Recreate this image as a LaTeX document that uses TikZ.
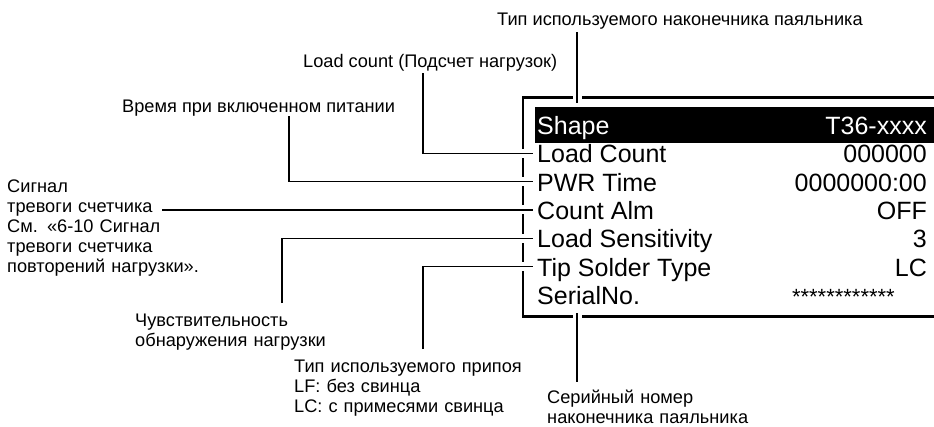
\documentclass[tikz,border=0pt]{standalone}
\usepackage{fontspec}
\setmainfont{Liberation Sans}
\begin{document}
\begin{tikzpicture}[x=1pt,y=-1pt,
  lbl/.style={inner sep=0pt, anchor=base west, font=\fontsize{18.2}{20}\selectfont},
  mlbl/.style={lbl, align=left, text width=240pt},
  rowtxt/.style={inner sep=0pt, anchor=base west, font=\fontsize{25}{28}\selectfont, text height=19pt, text depth=0pt},
  valtxt/.style={inner sep=0pt, anchor=base east, font=\fontsize{25}{28}\selectfont},
  conn/.style={line width=1.2pt, preaction={draw=white, line width=9pt}},
  frame/.style={line width=2.3pt}
]
\clip (0,0) rectangle (934,426);

% frame of the display
\draw[frame] (938,97.5) -- (523,97.5) -- (523,316.5) -- (938,316.5);

% rows (placed first so connectors can refer to them)
\path
  node[rowtxt, text=white] (rShape) at (537,134.5) {Shape}
  node[rowtxt] (rLoad) at (537,162.8) {Load Count}
  node[rowtxt] (rPwr)  at (537,191.1) {PWR Time}
  node[rowtxt] (rCnt)  at (537,219.4) {Count Alm}
  node[rowtxt] (rSens) at (537,247.7) {Load Sensitivity}
  node[rowtxt] (rTip)  at (537,276.0) {Tip Solder Type}
  node[rowtxt] (rSer)  at (537,304.3) {SerialNo.};

% connectors
\coordinate (aShape) at (577,32);
\coordinate (eShape) at (577,103);
\coordinate (aLoad) at (423,73);
\coordinate (aPwr) at (289,116);
\coordinate (aCnt) at (162,0);
\coordinate (aSens) at (282,303);
\coordinate (aTip) at (423,349);
\coordinate (eSer) at (577,313);
\coordinate (aSer) at (577,382);

\draw[conn] (aShape) -- (eShape);
\draw[conn] (aLoad) |- ([xshift=-4pt]rLoad.west);
\draw[conn] (aPwr) |- ([xshift=-4pt]rPwr.west);
\draw[conn] (aCnt |- rCnt.west) -- ([xshift=-4pt]rCnt.west);
\draw[conn] (aSens) |- ([xshift=-4pt]rSens.west);
\draw[conn] (aTip) |- ([xshift=-4pt]rTip.west);
\draw[conn] (eSer) -- (aSer);

% black title bar and its texts
\fill (535,107) rectangle (938,143);
\node[rowtxt, text=white] at (rShape.base west) {Shape};
\node[valtxt, text=white] (vShape) at (927,134.5) {T36-xxxx};
\node[valtxt] (vLoad) at (927,162.8) {000000};
\node[valtxt] (vPwr)  at (927,191.1) {0000000:00};
\node[valtxt] (vCnt)  at (927,219.4) {OFF};
\node[valtxt] (vSens) at (927,247.7) {3};
\node[valtxt] (vTip)  at (927,276.0) {LC};
\node[valtxt, font=\fontsize{22}{24}\selectfont] (vSer) at (895,304.3) {************};

% labels
\node[lbl] (lTipType) at (497,25) {Тип используемого наконечника паяльника};
\node[lbl] (lLoad) at (303,67) {Load count (Подсчет нагрузок)};
\node[lbl] (lPwr) at (122,112) {Время при включенном питании};
\node[mlbl] (lCnt) at (7,192) {Сигнал\\тревоги счетчика\\См. «6-10 Сигнал\\тревоги счетчика\\повторений нагрузки».};
\node[mlbl] (lSens) at (135,326) {Чувствительность\\обнаружения нагрузки};
\node[mlbl] (lTip) at (294,372) {Тип используемого припоя\\LF: без свинца\\LC: с примесями свинца};
\node[mlbl] (lSer) at (547,403) {Серийный номер\\наконечника паяльника};
\end{tikzpicture}
\end{document}
